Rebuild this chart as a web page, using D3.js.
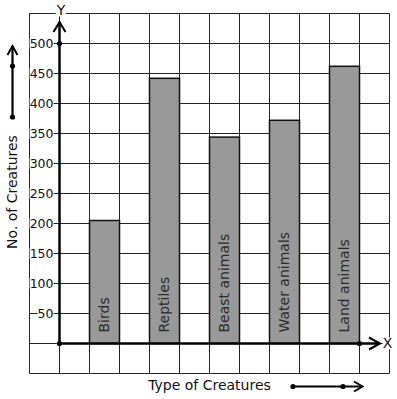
<!DOCTYPE html>
<html>
<head>
<meta charset="utf-8">
<script src="https://cdn.jsdelivr.net/npm/d3@7"></script>
<style>
  html, body { margin: 0; padding: 0; background: #fff; }
  svg { display: block; font-family: "DejaVu Sans", sans-serif; }
</style>
</head>
<body>
<svg id="chart" width="397" height="399"></svg>
<script>
// data
const creatures = ["Birds", "Reptiles", "Beast animals", "Water animals", "Land animals"];
const counts = [205, 442, 344, 372, 462];
const yTicks = [50, 100, 150, 200, 250, 300, 350, 400, 450, 500];

const svg = d3.select("#chart");

// scales: one grid cell = 30px = 50 creatures
const x = d3.scaleBand()
    .domain(creatures)
    .range([59.5, 389.5])
    .paddingInner(0.5)
    .paddingOuter(0.5);
const y = d3.scaleLinear().domain([0, 500]).range([343.5, 43.5]);

const cell = x.step() / 2;
const gridLeft = x.range()[0] - cell;
const gridRight = x.range()[1];
const gridTop = y(550);
const gridBottom = y(-50);

// grid
const g = svg.append("g");
d3.range(gridLeft, gridRight + 1, cell).forEach(gx => {
    g.append("line")
        .attr("x1", gx).attr("x2", gx)
        .attr("y1", gridTop).attr("y2", gridBottom)
        .attr("stroke", "#222").attr("stroke-width", 1);
});
d3.range(-50, 551, 50).forEach(v => {
    g.append("line")
        .attr("x1", gridLeft).attr("x2", gridRight)
        .attr("y1", y(v)).attr("y2", y(v))
        .attr("stroke", "#222").attr("stroke-width", 1);
});

// bars
svg.selectAll("rect.bar")
    .data(creatures)
    .enter()
    .append("rect")
    .attr("class", "bar")
    .attr("x", d => x(d))
    .attr("y", (d, i) => y(counts[i]))
    .attr("width", x.bandwidth())
    .attr("height", (d, i) => y(0) - y(counts[i]))
    .attr("fill", "#999")
    .attr("stroke", "#111")
    .attr("stroke-width", 1.5);

// bar labels
svg.selectAll("text.bar-label")
    .data(creatures)
    .enter()
    .append("text")
    .attr("class", "bar-label")
    .attr("transform", d => `translate(${x(d) + x.bandwidth() / 2},${y(0) - 11}) rotate(-90)`)
    .attr("dy", "0.35em")
    .attr("font-size", 14)
    .attr("fill", "#2a2a2a")
    .text(d => d);

// helper: text with white box behind it
const boxedText = (px, py, str, size, anchor) => {
    const grp = svg.append("g");
    const bg = grp.append("rect").attr("fill", "#fff");
    const t = grp.append("text")
        .attr("x", px).attr("y", py)
        .attr("dy", "0.35em")
        .attr("text-anchor", anchor)
        .attr("font-size", size)
        .attr("fill", "#111")
        .text(str);
    const b = t.node().getBBox();
    bg.attr("x", b.x).attr("y", b.y + 2).attr("width", b.width).attr("height", b.height - 4);
    return grp;
};

// y tick labels
yTicks.forEach(v => boxedText(53.5, y(v), v, 12.5, "end"));

// axes
const x0 = x.range()[0];
const y0 = y(0);
svg.append("line")
    .attr("x1", x0).attr("x2", x0).attr("y1", y0).attr("y2", 22)
    .attr("stroke", "#000").attr("stroke-width", 2.5);
svg.append("line")
    .attr("x1", x0).attr("x2", 380).attr("y1", y0).attr("y2", y0)
    .attr("stroke", "#000").attr("stroke-width", 2.5);

const chevron = pts => svg.append("path")
    .attr("d", d3.line()(pts))
    .attr("fill", "none").attr("stroke", "#000").attr("stroke-width", 2);

chevron([[x0 - 6, 32], [x0, 22], [x0 + 6, 32]]);
chevron([[369, y0 - 6], [380, y0], [369, y0 + 6]]);

const dot = (cx, cy) => svg.append("circle")
    .attr("cx", cx).attr("cy", cy).attr("r", 2.6).attr("fill", "#000");
dot(x0, y(500));
dot(x0, y0);
dot(x(creatures[4]) + x.bandwidth(), y0);

boxedText(x0 + 1.5, 10.5, "Y", 14, "middle");
boxedText(387.5, y0, "X", 14, "middle");

// axis titles
svg.append("text")
    .attr("transform", "translate(12,192) rotate(-90)")
    .attr("dy", "0.35em")
    .attr("text-anchor", "middle")
    .attr("font-size", 14)
    .attr("fill", "#111")
    .text("No. of Creatures");
svg.append("text")
    .attr("x", 209.5).attr("y", 385)
    .attr("dy", "0.35em")
    .attr("text-anchor", "middle")
    .attr("font-size", 14)
    .attr("fill", "#111")
    .text("Type of Creatures");

// decorative arrows beside the titles
svg.append("line")
    .attr("x1", 12.5).attr("x2", 12.5).attr("y1", 117).attr("y2", 46)
    .attr("stroke", "#000").attr("stroke-width", 2.2);
chevron([[7.5, 55], [12.5, 46], [17.5, 55]]);
dot(12.5, 117);
dot(12.5, 66);

svg.append("line")
    .attr("x1", 293).attr("x2", 362).attr("y1", 386.5).attr("y2", 386.5)
    .attr("stroke", "#000").attr("stroke-width", 2.2);
chevron([[354, 381.5], [362.5, 386.5], [354, 391.5]]);
dot(293, 386.5);
dot(343, 386.5);
</script>
</body>
</html>
